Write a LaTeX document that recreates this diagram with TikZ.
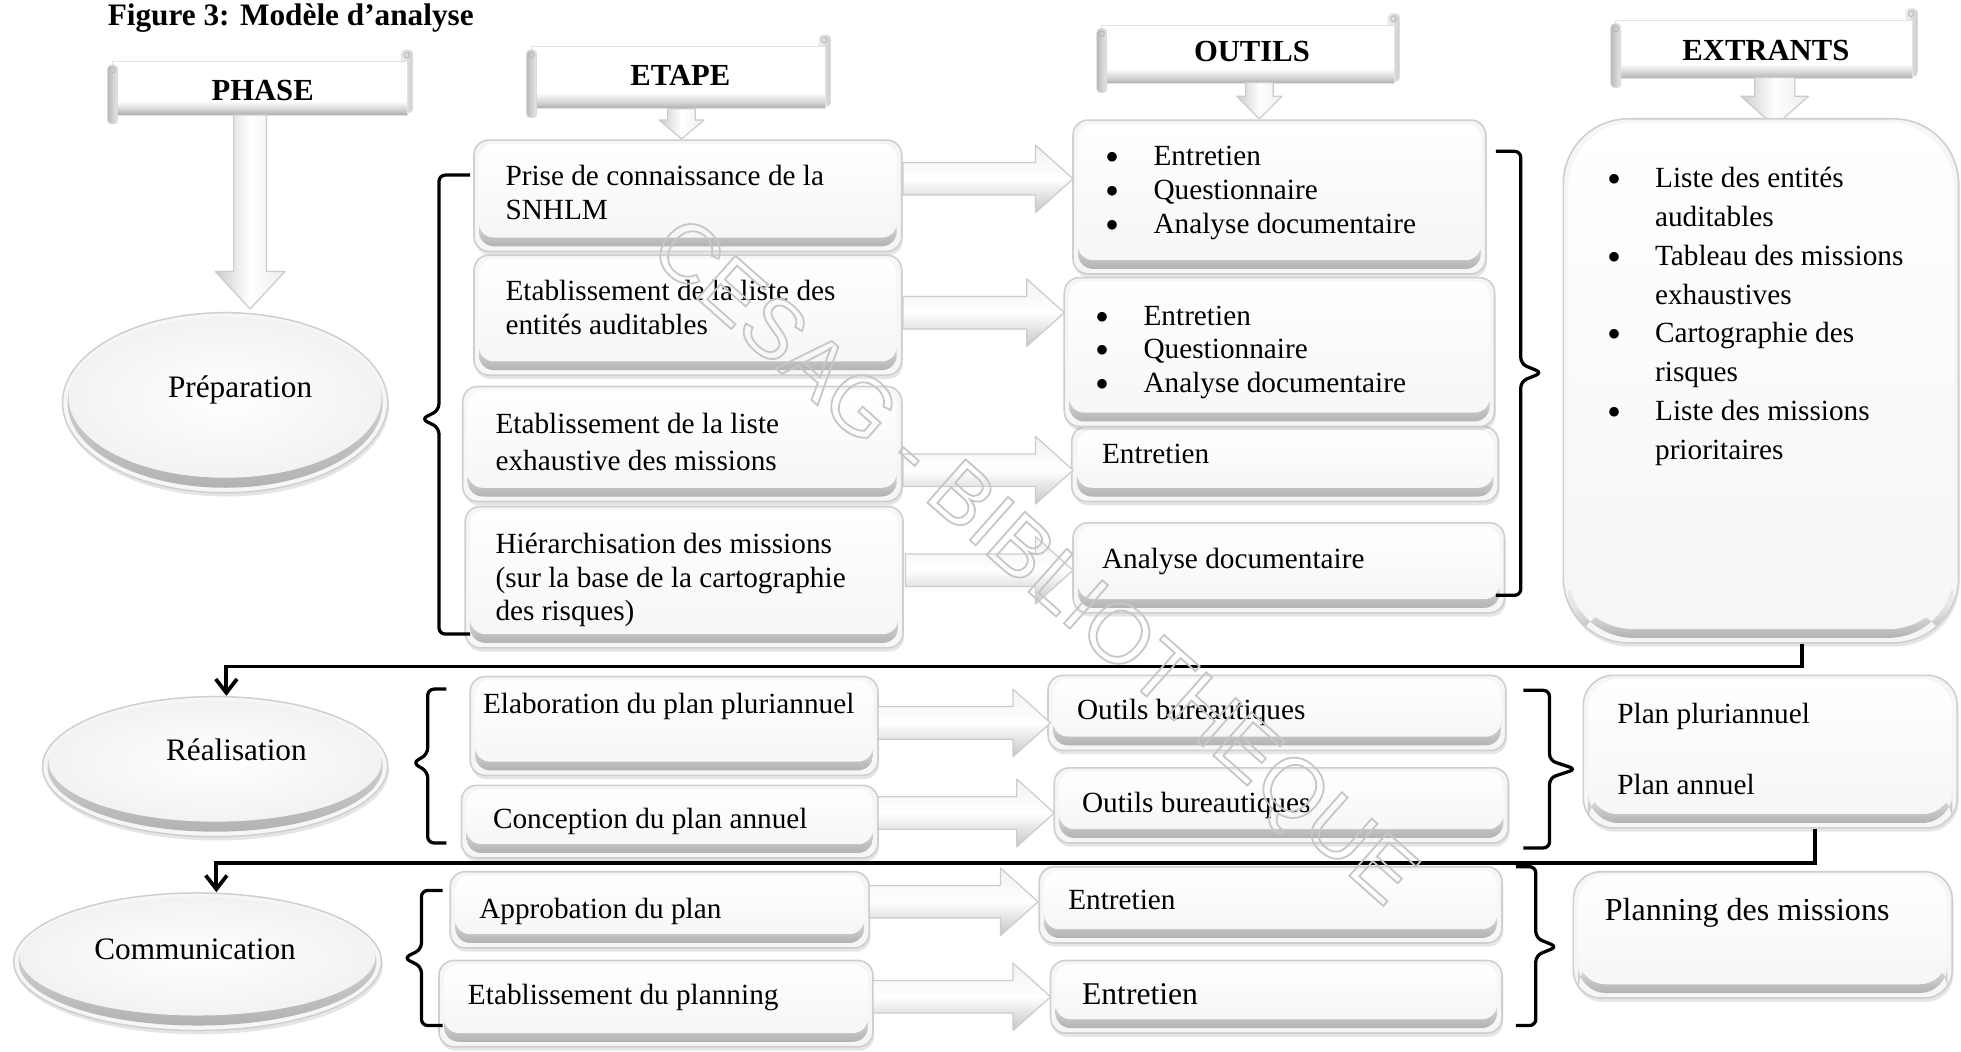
\documentclass[tikz,border=0pt]{standalone}
\usepackage{fontspec}
\setmainfont{Liberation Serif}
\newfontfamily\wmfont{Liberation Sans}
\usetikzlibrary{shapes.geometric,shadows,arrows.meta}

\colorlet{bnA}{gray!65}
\colorlet{bnB}{gray!30}
\pgfdeclareverticalshading{bannershade}{100bp}{color(0bp)=(bnA); color(25bp)=(bnA); color(31bp)=(bnB); color(38bp)=(white); color(100bp)=(white)}

% text helpers: one column of lines, and a bulleted column
\newcommand{\lns}[1]{\begin{tabular}{@{}l@{}}#1\end{tabular}}
\newcommand{\bul}[1]{\begin{tabular}{@{}l@{\hskip 27pt}l@{}}#1\end{tabular}}
\newcommand{\bt}{{\fontsize{32}{27}\selectfont\raisebox{-4pt}{•}}}

% white block arrow pointing right: x start, x tip, y axis
\newcommand{\fatright}[3]{%
  \shade[fatH] (#1,#3-13) -- (#2-30,#3-13) -- (#2-30,#3-27) -- (#2,#3)
    -- (#2-30,#3+27) -- (#2-30,#3+13) -- (#1,#3+13) -- cycle;}
% white block arrow pointing down: x axis, y start, y tip, shaft half, head half, head length
\newcommand{\fatdown}[6]{%
  \shade[fatV] (#1-#4,#2) -- (#1-#4,#3-#6) -- (#1-#5,#3-#6) -- (#1,#3)
    -- (#1+#5,#3-#6) -- (#1+#4,#3-#6) -- (#1+#4,#2) -- cycle;}
% horizontal scroll banner body: x1 y1 x2 y2
\newcommand{\drawscroll}[4]{%
  \shade[left color=gray!12, right color=gray!40, draw=gray!25, line width=0.6pt, rounded corners=3pt]
    (#3-8,#2-9) rectangle (#3+1,#4-2);
  \shade[shading=bannershade, draw=gray!22, line width=0.6pt] (#1,#2) rectangle (#3-3,#4);
  \shade[left color=gray!55, right color=gray!18, draw=gray!30, line width=0.6pt, rounded corners=3pt]
    (#1-4,#2+3) rectangle (#1+4,#4+7);
  \draw[gray!55, line width=0.8pt] (#1,#2+7) circle (2.2pt);
  \draw[gray!55, line width=0.8pt] (#3-4,#2-5) circle (2.2pt);}

\begin{document}
\begin{tikzpicture}[x=1pt,y=-1pt,
  card/.style={rounded corners=#1, draw=gray!38, line width=1.3pt, inner sep=0pt,
    drop shadow={opacity=0.2, shadow xshift=1pt, shadow yshift=-3pt},
    path picture={
      \fill[gray!7] (path picture bounding box.south west) rectangle (path picture bounding box.north east);
      \shade[rounded corners=#1, top color=gray!18, bottom color=gray!60]
        ([xshift=4pt,yshift=4pt]path picture bounding box.south west)
        rectangle ([xshift=-4pt,yshift=30pt]path picture bounding box.south east);
      \shade[rounded corners=#1, top color=white, bottom color=gray!7]
        ([xshift=4pt,yshift=11pt]path picture bounding box.south west)
        rectangle ([xshift=-4pt,yshift=-3pt]path picture bounding box.north east);
    }},
  card/.default=12pt,
  phase/.style 2 args={ellipse, minimum width=2*#1, minimum height=2*#2, inner sep=0pt,
    draw=gray!38, line width=1.2pt,
    drop shadow={opacity=0.2, shadow xshift=1pt, shadow yshift=-3pt},
    path picture={
      \fill[gray!7] (path picture bounding box.south west) rectangle (path picture bounding box.north east);
      \shade[top color=gray!18, bottom color=gray!60] (path picture bounding box.center)
        ellipse [x radius=#1pt-4pt, y radius=#2pt-4pt];
      \shade[inner color=white, outer color=gray!10] ([yshift=4pt]path picture bounding box.center)
        ellipse [x radius=#1pt-5pt, y radius=#2pt-8pt];
    }},
  txt/.style={anchor=west, inner sep=0pt, font=\fontsize{23.4}{27}\selectfont},
  hdr/.style={inner sep=0pt, font=\bfseries\fontsize{24.5}{28}\selectfont},
  phtxt/.style={inner sep=0pt, font=\fontsize{25}{29}\selectfont},
  fatH/.style={draw=gray!40, line width=1pt, line join=round, top color=gray!10, bottom color=gray!45, middle color=white},
  fatV/.style={draw=gray!40, line width=1pt, line join=round, left color=gray!40, right color=gray!15, middle color=white},
  conn/.style={line width=3pt, -{Straight Barb[length=11pt,width=17pt]}},
  brace/.style={line width=2.6pt, rounded corners=5pt}
]
\useasboundingbox (0,0) rectangle (1568,840.4);
\fill[white] (0,0) rectangle (1568,840.4);

% title
\node[anchor=base west, inner sep=0pt, font=\bfseries\fontsize{25}{29}\selectfont] (title) at (86,20) {Figure 3: Modèle d’analyse};

% column banners
\drawscroll{90}{49}{329}{92}
\drawscroll{425}{37}{663}{87}
\drawscroll{881}{20}{1118}{67}
\drawscroll{1292}{16}{1532}{63}
\node[hdr] (hphase) at (210,72) {PHASE};
\node[hdr] (hetape) at (544,60) {ETAPE};
\node[hdr] (houtils) at (1001,41) {OUTILS};
\node[hdr] (hextr) at (1412,40) {EXTRANTS};

% arrows under the banners
\fatdown{200}{92}{247}{13}{28}{30}
\fatdown{545}{87}{111}{11}{18}{15}
\fatdown{1007}{66}{95}{11}{18}{18}
\fatdown{1419}{62}{101}{16}{27}{24}

% phases
\node[phase={130}{72}] (prep) at (180,322) {};
\node[phase={138}{56}] (realis) at (172,613) {};
\node[phase={147}{55}] (comm) at (158,769) {};
\node[phtxt] (prepT) at (192,312) {\lns{Préparation}};
\node[phtxt] (realisT) at (189,602) {\lns{Réalisation}};
\node[phtxt] (commT) at (156,761) {\lns{Communication}};

% steps of the preparation phase
\node[card, minimum width=342pt, minimum height=89pt] (e1) at (550,156.5) {};
\node[card, minimum width=342pt, minimum height=96pt] (e2) at (550,252) {};
\node[card, minimum width=351pt, minimum height=92pt] (e3) at (545.5,355) {};
\node[card, minimum width=350pt, minimum height=113pt] (e4) at (547,461.5) {};
\node[txt] (e1t) at (404,156.5) {\lns{Prise de connaissance de la\\SNHLM}};
\node[txt] (e2t) at (404,248.5) {\lns{Etablissement de la liste des\\entités auditables}};
\node[txt, font=\fontsize{23.4}{30}\selectfont] (e3t) at (396,355.5) {\lns{Etablissement de la liste\\exhaustive des missions}};
\node[txt] (e4t) at (396,464) {\lns{Hiérarchisation des missions\\(sur la base de la cartographie\\des risques)}};

% tools of the preparation phase
\node[card, minimum width=330pt, minimum height=123pt] (o1) at (1023,157.5) {};
\node[card, minimum width=341pt, minimum height=60pt] (o3) at (1027.5,371) {};
\node[card, minimum width=344pt, minimum height=119pt] (o2) at (1023,281.5) {};
\node[card, minimum width=345pt, minimum height=72pt] (o4) at (1030.5,454) {};
\node[txt] (o1t) at (884,154) {\bul{\bt&Entretien\\\bt&Questionnaire\\\bt&Analyse documentaire}};
\node[txt] (o2t) at (876,281.5) {\bul{\bt&Entretien\\\bt&Questionnaire\\\bt&Analyse documentaire}};
\node[txt] (o3t) at (881,365) {\lns{Entretien}};
\node[txt] (o4t) at (881,449) {\lns{Analyse documentaire}};

\fatright{722}{858}{143}
\fatright{722}{851}{250}
\fatright{722}{858}{376}
\fatright{724}{858}{456}

% outputs of the preparation phase
\node[card=52pt, minimum width=316pt, minimum height=419pt] (x1) at (1408,304.5) {};
\node[txt, font=\fontsize{23.4}{31}\selectfont] (x1t) at (1285,252.5)
  {\bul{\bt&Liste des entités\\&auditables\\\bt&Tableau des missions\\&exhaustives\\\bt&Cartographie des\\&risques\\\bt&Liste des missions\\&prioritaires}};

% realisation phase
\node[card, minimum width=326pt, minimum height=79pt] (r1) at (539,580.5) {};
\node[card, minimum width=333pt, minimum height=58pt] (r2) at (535.5,657) {};
\node[card, minimum width=366pt, minimum height=60pt] (ro1) at (1021,570) {};
\node[card, minimum width=363pt, minimum height=60pt] (ro2) at (1024.5,644) {};
\node[card=24pt, minimum width=299pt, minimum height=122pt] (x2) at (1415.5,601) {};
\node[txt] (r1t) at (386,565) {\lns{Elaboration du plan pluriannuel}};
\node[txt] (r2t) at (394,657) {\lns{Conception du plan annuel}};
\node[txt] (ro1t) at (861,570) {\lns{Outils bureautiques}};
\node[txt] (ro2t) at (865,644) {\lns{Outils bureautiques}};
\node[txt] (x2a) at (1293,573) {\lns{Plan pluriannuel}};
\node[txt] (x2b) at (1293,630) {\lns{Plan annuel}};
\fatright{702}{840}{578}
\fatright{702}{843}{650}

% communication phase
\node[card, minimum width=335pt, minimum height=61pt] (c1) at (527.5,727.5) {};
\node[card, minimum width=347pt, minimum height=69pt] (c2) at (524.5,802.5) {};
\node[card, minimum width=370pt, minimum height=61pt] (co1) at (1016,723.5) {};
\node[card, minimum width=361pt, minimum height=58pt] (co2) at (1020.5,797) {};
\node[card=22pt, minimum width=303pt, minimum height=101pt] (x3) at (1409.5,747.5) {};
\node[txt] (c1t) at (383,729) {\lns{Approbation du plan}};
\node[txt] (c2t) at (374,798) {\lns{Etablissement du planning}};
\node[txt] (co1t) at (854,722) {\lns{Entretien}};
\node[txt, font=\fontsize{25.3}{29}\selectfont] (co2t) at (865,797) {\lns{Entretien}};
\node[txt, font=\fontsize{25.6}{29}\selectfont] (x3t) at (1283,730) {\lns{Planning des missions}};
\fatright{695}{830}{721}
\fatright{698}{840}{797}

% braces grouping the steps and the tools
\draw[brace] (376,140) -- (351,140) -- (351,328) -- (337,335) -- (351,342) -- (351,507) -- (376,507);
\draw[brace] (357,551) -- (342,551) -- (342,603) -- (330,610) -- (342,617) -- (342,674) -- (357,674);
\draw[brace] (354,712) -- (337,712) -- (337,759) -- (323,766) -- (337,773) -- (337,820) -- (354,820);
\draw[brace] (1196,121) -- (1216,121) -- (1216,291) -- (1233,298) -- (1216,305) -- (1216,476) -- (1196,476);
\draw[brace] (1218,552) -- (1239,552) -- (1239,608) -- (1260,615) -- (1239,622) -- (1239,678) -- (1218,678);
\draw[brace] (1212,693) -- (1228,693) -- (1228,750) -- (1245,757) -- (1228,764) -- (1228,820) -- (1212,820);

% links from one phase to the next
\coordinate (k1a) at (1441,533);
\coordinate (k1b) at (181,533);
\draw[conn] (x1.south -| k1a) -- (k1a) -- (k1b) -- (k1b |- realis.north);
\coordinate (k2a) at (1451,690);
\coordinate (k2b) at (173,690);
\draw[conn] (x2.south -| k2a) -- (k2a) -- (k2b) -- (k2b |- comm.north);

% library stamp
\node[rotate=-41.5, inner sep=0pt, text=gray!45, font=\wmfont\fontsize{67}{70}\selectfont] (stamp) at (824,452)
  {\special{pdf:literal direct 1.4 w 1 Tr}CESAG - BIBLIOTHEQUE\special{pdf:literal direct 0 Tr}};
\end{tikzpicture}
\end{document}
